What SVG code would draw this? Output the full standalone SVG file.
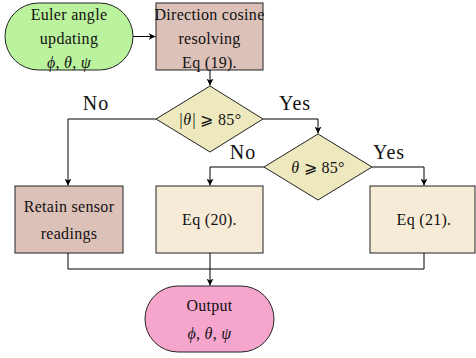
<svg xmlns="http://www.w3.org/2000/svg" width="476" height="358" viewBox="0 0 476 358">
<defs>
<marker id="ah" viewBox="0 0 10 10" refX="10" refY="5" markerWidth="7" markerHeight="7" orient="auto" markerUnits="userSpaceOnUse">
<path d="M0,0 L10,5 L0,10 L3,5 Z" fill="#000"/>
</marker>
<style>
.s{stroke:#222;stroke-width:1}
.t{font-family:"Liberation Serif",serif;font-size:16px;letter-spacing:0.3px;fill:#111;text-anchor:middle}
.l{font-family:"Liberation Serif",serif;font-size:20px;letter-spacing:1px;fill:#111;text-anchor:middle}
.m{font-style:italic}
.c{fill:none;stroke:#000;stroke-width:1}
</style>
</defs>
<g id="euler">
<rect class="s" x="5" y="3" width="128" height="67" rx="33.5" fill="#bbf29e"/>
<text class="t" x="69" y="19.5">Euler angle</text>
<text class="t" x="69" y="43.5">updating</text>
<text class="t" x="69" y="67.5"><tspan class="m">ϕ</tspan>, <tspan class="m">θ</tspan>, <tspan class="m">ψ</tspan></text>
</g>
<g id="dcm">
<rect class="s" x="156" y="3" width="107" height="67" fill="#dcc1b9"/>
<text class="t" x="209.5" y="19.5">Direction cosine</text>
<text class="t" x="209.5" y="43.5">resolving</text>
<text class="t" x="209.5" y="67.5">Eq (19).</text>
</g>
<g id="d1">
<polygon class="s" points="210,86 263,119 210,152 156,119" fill="#ede8bd"/>
<text class="t" x="210" y="124.5"><tspan class="m">|θ|</tspan> ⩾ 85°</text>
</g>
<g id="d2">
<polygon class="s" points="318,134 372,167 318,200 264,167" fill="#ede8bd"/>
<text class="t" x="318" y="172.5"><tspan class="m">θ</tspan> ⩾ 85°</text>
</g>
<g id="retain">
<rect class="s" x="15" y="186" width="108" height="67" fill="#dcc1b9"/>
<text class="t" x="69" y="211.5">Retain sensor</text>
<text class="t" x="69" y="238.5">readings</text>
</g>
<g id="eq20">
<rect class="s" x="156" y="186" width="107" height="67" fill="#f6ebd6"/>
<text class="t" x="209.5" y="225">Eq (20).</text>
</g>
<g id="eq21">
<rect class="s" x="370" y="186" width="105" height="67" fill="#f6ebd6"/>
<text class="t" x="424" y="225">Eq (21).</text>
</g>
<g id="output">
<rect class="s" x="145" y="286" width="129" height="66" rx="33" fill="#f6a5cd"/>
<text class="t" x="209.5" y="310.5">Output</text>
<text class="t" x="209.5" y="338.5"><tspan class="m">ϕ</tspan>, <tspan class="m">θ</tspan>, <tspan class="m">ψ</tspan></text>
</g>
<g id="connectors">
<path class="c" d="M133,36.5 H155.5" marker-end="url(#ah)"/>
<path class="c" d="M210,70 V85.5" marker-end="url(#ah)"/>
<path class="c" d="M263,119 H318 V133.5" marker-end="url(#ah)"/>
<path class="c" d="M156,119 H68 V185.5" marker-end="url(#ah)"/>
<path class="c" d="M264,167 H210 V185.5" marker-end="url(#ah)"/>
<path class="c" d="M372,167 H424 V185.5" marker-end="url(#ah)"/>
<path class="c" d="M68,253 V269 H424 V253"/>
<path class="c" d="M210,253 V285.5" marker-end="url(#ah)"/>
<text class="l" x="96" y="110">No</text>
<text class="l" x="295" y="110">Yes</text>
<text class="l" x="243" y="159">No</text>
<text class="l" x="389" y="159">Yes</text>
</g>
</svg>
